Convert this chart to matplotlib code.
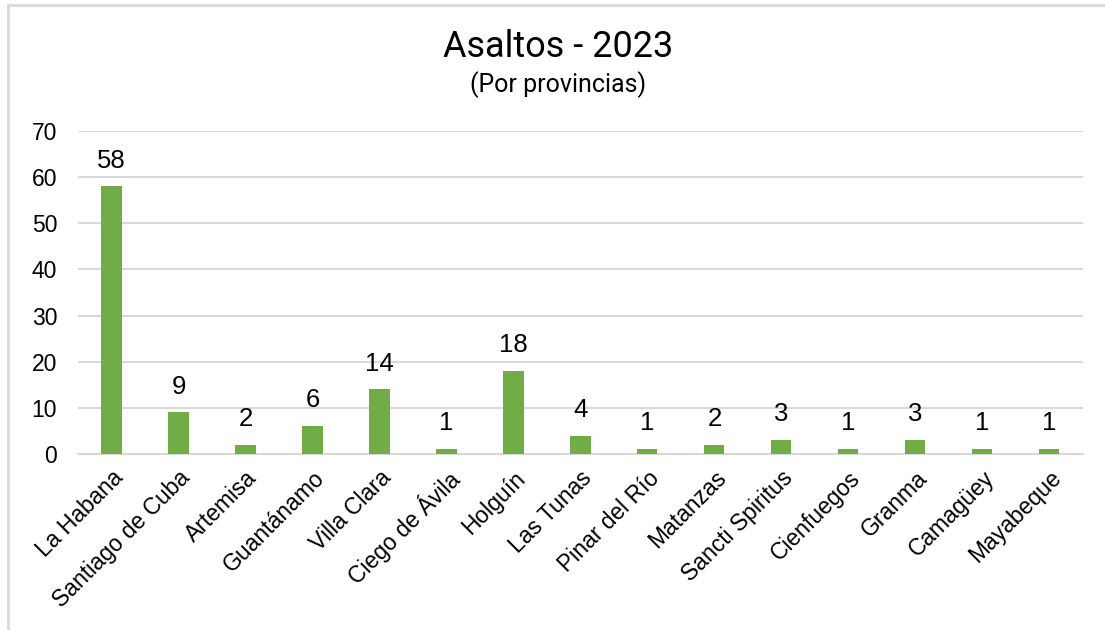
import matplotlib
matplotlib.use("Agg")
import matplotlib.pyplot as plt
from matplotlib.lines import Line2D

provincias = ["La Habana", "Santiago de Cuba", "Artemisa", "Guantánamo", "Villa Clara",
              "Ciego de Ávila", "Holguín", "Las Tunas", "Pinar del Río", "Matanzas",
              "Sancti Spiritus", "Cienfuegos", "Granma", "Camagüey", "Mayabeque"]
asaltos = [58, 9, 2, 6, 14, 1, 18, 4, 1, 2, 3, 1, 3, 1, 1]
y_ticks = [0, 10, 20, 30, 40, 50, 60, 70]

plt.rcParams["font.family"] = ["Liberation Sans", "DejaVu Sans"]

fig = plt.figure(figsize=(11.05, 6.3), dpi=100)
ax = fig.add_axes([0.0706, 0.2794, 0.9094, 0.5126])

x = range(len(provincias))
ax.bar(x, asaltos, width=0.3, color="#70AD47", zorder=3)

for xi, v in zip(x, asaltos):
    ax.annotate(str(v), (xi, v), xytext=(0, 10), textcoords="offset points",
                ha="center", va="bottom", fontsize=18.5, color="#000000")

ax.set_xlim(-0.5, len(provincias) - 0.5)
ax.set_ylim(0, 70)
ax.set_yticks(y_ticks)
ax.set_yticklabels([str(t) for t in y_ticks], fontsize=16.5)
ax.set_xticks(list(x))
ax.set_xticklabels(provincias, rotation=45, ha="right", rotation_mode="anchor", fontsize=16.5)
ax.tick_params(axis="y", length=0, pad=15)
ax.tick_params(axis="x", length=0, pad=9)

ax.grid(axis="y", color="#D9D9D9", linewidth=1.5, zorder=0)
for side in ["top", "right", "left"]:
    ax.spines[side].set_visible(False)
ax.spines["bottom"].set_color("#D9D9D9")
ax.spines["bottom"].set_linewidth(1.5)

fig.text(0.505, 0.925, "Asaltos - 2023", ha="center", va="center", fontsize=26,
         family=["Roboto", "DejaVu Sans"])
fig.text(0.505, 0.866, "(Por provincias)", ha="center", va="center", fontsize=18,
         family=["Roboto", "DejaVu Sans"])

# outer chart frame (left and top edges)
fig.add_artist(Line2D([0.0068, 0.0068], [0.0, 0.992], color="#D9D9D9", linewidth=2,
                      transform=fig.transFigure))
fig.add_artist(Line2D([0.0068, 1.0], [0.992, 0.992], color="#D9D9D9", linewidth=2,
                      transform=fig.transFigure))

fig.savefig("out.png", dpi=100, facecolor="white")
